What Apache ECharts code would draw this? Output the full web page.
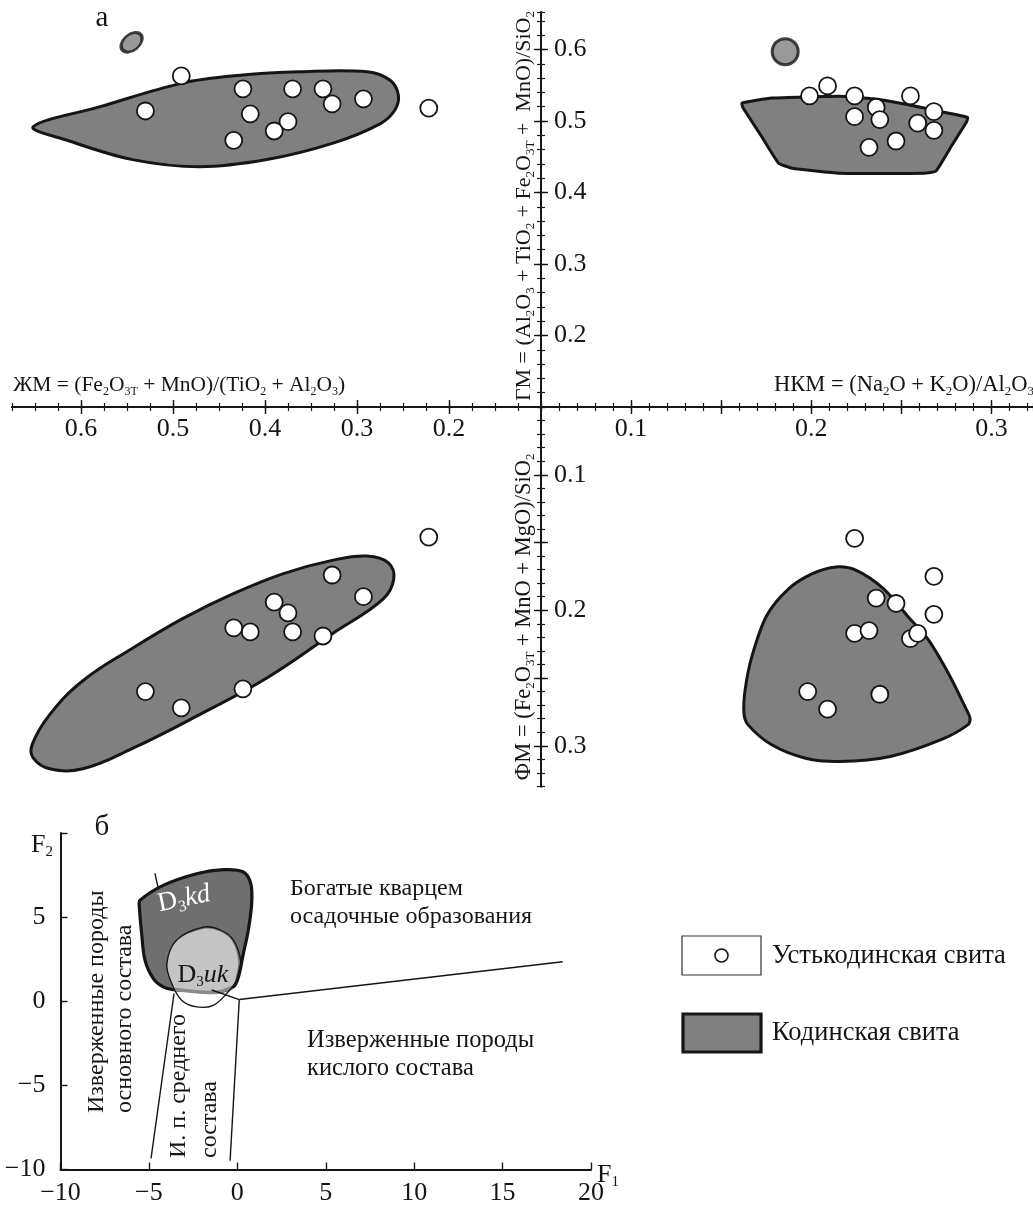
<!DOCTYPE html>
<html>
<head>
<meta charset="utf-8">
<script src="https://cdn.jsdelivr.net/npm/echarts@6/dist/echarts.min.js"></script>
<style>
html, body { margin: 0; padding: 0; background: #fff; }
#main { width: 1033px; height: 1213px; }
</style>
</head>
<body>
<div id="main"></div>
<script>
var FONT = '"Liberation Serif", "Times New Roman", serif';
var INK = '#151515';
var FIELD = '#808080';

// ---- а: left half, ЖМ (x) with ГМ (top) and ФМ (bottom); same 12 samples
var zhmL = [0.491, 0.530, 0.424, 0.370, 0.337, 0.293, 0.327, 0.416, 0.375, 0.390, 0.434, 0.222];
var gmL  = [0.563, 0.514, 0.545, 0.545, 0.545, 0.531, 0.524, 0.510, 0.499, 0.486, 0.473, 0.518];
var fmL  = [0.272, 0.260, 0.258, 0.216, 0.219, 0.190, 0.174, 0.216, 0.202, 0.194, 0.213, 0.146];

// ---- а: right half, НКМ (x)
var nkmTop = [0.199, 0.209, 0.224, 0.255, 0.236, 0.268, 0.224, 0.238, 0.259, 0.268, 0.247, 0.232];
var gmTop  = [0.535, 0.549, 0.535, 0.535, 0.519, 0.513, 0.506, 0.502, 0.497, 0.487, 0.472, 0.463];
var nkmBot = [0.224, 0.268, 0.236, 0.247, 0.268, 0.224, 0.232, 0.255, 0.259, 0.198, 0.209, 0.238];
var fmBot  = [0.147, 0.175, 0.191, 0.195, 0.203, 0.217, 0.215, 0.221, 0.217, 0.260, 0.273, 0.262];

// single Кодинская свита points outside the fields
var kodLeft  = [0.545, 0.610];   // ЖМ, ГМ
var kodRight = [0.1855, 0.597];  // НКМ, ГМ

// Кодинская свита fields (outlines)
var fieldTL = [[0.652,0.492],[0.579,0.520],[0.490,0.553],[0.427,0.564],[0.362,0.569],[0.289,0.569],
  [0.264,0.557],[0.255,0.536],[0.259,0.515],[0.275,0.496],[0.326,0.469],[0.398,0.446],
  [0.471,0.436],[0.544,0.446],[0.615,0.473]];
var fieldTR = [[0.1615,0.525],[0.178,0.532],[0.2156,0.5345],[0.2344,0.531],[0.2532,0.523],[0.272,0.513],
  [0.2867,0.505],[0.2861,0.4985],[0.278,0.466],[0.2692,0.430],[0.2626,0.427],[0.2156,0.427],
  [0.1893,0.434],[0.1818,0.441],[0.172,0.480],[0.162,0.519]];
var fieldBL = [[0.653,0.299],[0.634,0.277],[0.598,0.252],[0.544,0.228],[0.489,0.206],[0.435,0.188],
  [0.380,0.173],[0.326,0.163],[0.289,0.160],[0.266,0.165],[0.260,0.177],[0.272,0.192],
  [0.326,0.217],[0.398,0.250],[0.471,0.277],[0.544,0.302],[0.598,0.317],[0.634,0.317],[0.652,0.309]];
var fieldBR = [[0.2137,0.168],[0.225,0.1705],[0.240,0.184],[0.2532,0.204],[0.2645,0.221],[0.2758,0.246],
  [0.2852,0.271],[0.288,0.2795],[0.287,0.2844],[0.272,0.2955],[0.2438,0.3079],[0.2156,0.3116],
  [0.1968,0.3092],[0.178,0.2993],[0.1648,0.2844],[0.1626,0.2757],[0.1633,0.2584],[0.1671,0.2337],
  [0.1752,0.204],[0.1874,0.1842],[0.2006,0.173]];

// ---- б: F1-F2 discriminant diagram
var kdField = [[-5.50,6.00],[-4.19,6.89],[-2.30,7.58],[-0.79,7.82],[0.34,7.68],[0.76,6.99],[0.81,5.80],
  [0.62,4.22],[0.34,2.83],[0.06,1.44],[-0.23,0.85],[-1.17,0.55],[-2.86,0.65],[-3.62,0.69],
  [-4.19,0.85],[-4.75,1.35],[-5.22,2.43],[-5.41,4.02],[-5.54,5.60]];
var ukBlob = [[-1.92,4.40],[-0.98,4.25],[-0.23,3.65],[0.19,2.43],[0.06,1.44],[-0.60,0.46],[-1.36,-0.24],
  [-2.30,-0.34],[-3.15,0.06],[-3.71,1.05],[-3.99,2.24],[-3.43,3.65]];
var ukInner = [[-1.92,4.30],[-0.98,4.15],[-0.30,3.60],[0.05,2.43],[-0.08,1.44],[-0.30,0.85],[-1.17,0.50],
  [-2.86,0.59],[-3.58,0.71],[-3.71,1.05],[-3.95,2.24],[-3.40,3.60]];
var ukBand = [[-3.58,0.71],[-2.86,0.62],[-1.17,0.53],[-0.30,0.82]];
var lineLeft  = [[-3.58,0.46],[-4.88,-9.34]];
var lineRight = [[0.11,0.10],[-0.41,-9.48]];
var lineLong  = [[0.11,0.10],[18.4,2.35]];
var lineInner = [[0.11,0.10],[-1.45,0.67]];
var lineStub  = [[-4.66,7.60],[-4.47,6.69]];

// tick positions / labels
var zhmMajor = [0.2, 0.3, 0.4, 0.5, 0.6];
var gmMajor  = [0.2, 0.3, 0.4, 0.5, 0.6];
var nkmMajor = [0.1, 0.15, 0.2, 0.25, 0.3];
var nkmLabel = [0.1, 0.2, 0.3];
var fmMajor  = [0.1, 0.15, 0.2, 0.25, 0.3];
var fmLabel  = [0.1, 0.2, 0.3];
var f2Label  = [-10, -5, 0, 5];

function fmt1(v) { return (+v).toFixed(1); }
function minus(v) { return String(v).replace('-', '\u2212'); }

function axisPair(grid, pos, min, max, inverse, minorStep, majors, labels, margin) {
  var base = { type: 'value', gridIndex: grid, position: pos, min: min, max: max,
    inverse: inverse, splitLine: { show: false } };
  var minor = Object.assign({}, base, {
    interval: minorStep,
    axisLine: { show: true, onZero: false, lineStyle: { color: INK, width: 2 } },
    axisTick: { show: true, length: 4, lineStyle: { color: INK, width: 1.2 } },
    axisLabel: { show: false }
  });
  var major = Object.assign({}, base, {
    interval: minorStep,
    axisLine: { show: false, onZero: false },
    axisTick: { show: true, length: 7, customValues: majors, lineStyle: { color: INK, width: 1.4 } },
    axisLabel: labels ? { show: true, customValues: labels, formatter: fmt1, fontFamily: FONT,
      fontSize: 26, color: INK, margin: margin } : { show: false }
  });
  return [minor, major];
}

var xAxes = [].concat(
  axisPair(0, 'bottom', 0.1, 0.675, true, 0.025, zhmMajor, zhmMajor, 9),
  axisPair(2, 'top', 0.1, 0.675, true, 0.025, zhmMajor, null),
  axisPair(1, 'bottom', 0.05, 0.323, false, 0.01, nkmMajor, nkmLabel, 9),
  axisPair(3, 'top', 0.05, 0.323, false, 0.01, nkmMajor, null),
  [{
    type: 'value', gridIndex: 4, min: -10, max: 20, interval: 5, position: 'bottom',
    splitLine: { show: false },
    axisLine: { onZero: false, lineStyle: { color: INK, width: 2 } },
    axisTick: { inside: true, length: 7, lineStyle: { color: INK, width: 1.4 } },
    axisLabel: { formatter: minus, fontFamily: FONT, fontSize: 26, color: INK, margin: 11 }
  }]
);
var yAxes = [].concat(
  axisPair(0, 'right', 0.1, 0.652, false, 0.02, gmMajor, gmMajor, 13),
  axisPair(1, 'left', 0.1, 0.652, false, 0.02, gmMajor, null),
  axisPair(2, 'right', 0.05, 0.33, true, 0.01, fmMajor, fmLabel, 13),
  axisPair(3, 'left', 0.05, 0.33, true, 0.01, fmMajor, null),
  [{
    type: 'value', gridIndex: 4, min: -10, max: 10, interval: 5, position: 'left',
    splitLine: { show: false },
    axisLine: { onZero: false, lineStyle: { color: INK, width: 2 } },
    axisTick: { inside: true, length: 7, lineStyle: { color: INK, width: 1.4 } },
    axisLabel: { customValues: f2Label, formatter: minus, fontFamily: FONT, fontSize: 26, color: INK, margin: 15 }
  }]
);

function shapeSeries(xi, yi, pts, kind, style, smooth, z) {
  return {
    type: 'custom', xAxisIndex: xi, yAxisIndex: yi, z: z, silent: true, animation: false,
    data: [[0, 0]],
    renderItem: function (params, api) {
      return {
        type: kind,
        shape: { points: pts.map(function (p) { return api.coord(p); }), smooth: smooth },
        style: style
      };
    }
  };
}
var fieldStyle = { fill: FIELD, stroke: INK, lineWidth: 3 };
function openCircles(xi, yi, xs, ys) {
  return {
    type: 'scatter', xAxisIndex: xi, yAxisIndex: yi, z: 5, silent: true,
    symbol: 'circle', symbolSize: 17,
    itemStyle: { color: '#fff', borderColor: INK, borderWidth: 1.8, opacity: 1 },
    data: xs.map(function (x, i) { return [x, ys[i]]; })
  };
}
function thin(pts) { return shapeSeries(8, 8, pts, 'polyline', { fill: null, stroke: INK, lineWidth: 1.4 }, 0, 3); }

var series = [
  shapeSeries(0, 0, fieldTL, 'polygon', fieldStyle, 0.35, 2),
  shapeSeries(4, 2, fieldTR, 'polygon', fieldStyle, 0.12, 2),
  shapeSeries(2, 4, fieldBL, 'polygon', fieldStyle, 0.4, 2),
  shapeSeries(6, 6, fieldBR, 'polygon', fieldStyle, 0.3, 2),
  openCircles(0, 0, zhmL, gmL),
  openCircles(2, 4, zhmL, fmL),
  openCircles(4, 2, nkmTop, gmTop),
  openCircles(6, 6, nkmBot, fmBot),
  {
    type: 'scatter', xAxisIndex: 0, yAxisIndex: 0, z: 5, silent: true,
    symbol: 'circle', symbolSize: [24, 16], symbolRotate: 40,
    itemStyle: { color: FIELD, borderColor: INK, borderWidth: 3 },
    data: [kodLeft]
  },
  {
    type: 'scatter', xAxisIndex: 4, yAxisIndex: 2, z: 5, silent: true,
    symbol: 'circle', symbolSize: 26,
    itemStyle: { color: FIELD, borderColor: INK, borderWidth: 3 },
    data: [kodRight]
  },
  shapeSeries(8, 8, kdField, 'polygon', { fill: '#6f6f6f', stroke: INK, lineWidth: 3.2 }, 0.35, 2),
  shapeSeries(8, 8, ukInner, 'polygon', { fill: '#c4c4c4', stroke: null }, 0.35, 3),
  shapeSeries(8, 8, ukBand, 'polyline', { fill: null, stroke: '#8a8a8a', lineWidth: 3.5 }, 0.3, 3),
  shapeSeries(8, 8, ukBlob, 'polygon', { fill: null, stroke: INK, lineWidth: 1.3 }, 0.35, 4),
  thin(lineLeft), thin(lineRight), thin(lineLong), thin(lineInner), thin(lineStub)
];

function rich(size, color) {
  var sub = Math.round(size * 0.58);
  return {
    n: { fontSize: size, fontFamily: FONT, fill: color, color: color, lineHeight: size + 4 },
    i: { fontSize: size, fontFamily: FONT, fontStyle: 'italic', fill: color, color: color, lineHeight: size + 4 },
    s: { fontSize: sub, fontFamily: FONT, fill: color, color: color, verticalAlign: 'bottom', lineHeight: sub + 1 }
  };
}
function txt(x, y, text, size, o) {
  o = o || {};
  var color = o.color || INK;
  return {
    type: 'text', x: x, y: y, rotation: o.rot || 0, z: 100, silent: true,
    style: {
      text: text, rich: rich(size, color), fill: color,
      font: size + 'px ' + FONT,
      align: o.align || 'left', textAlign: o.align || 'left',
      verticalAlign: 'middle', textVerticalAlign: 'middle',
      lineHeight: o.lh || size + 4
    }
  };
}
var R90 = Math.PI / 2;
var graphics = [
  txt(102, 18, 'а', 29, { align: 'center' }),
  txt(13, 385, '{n|ЖМ = (Fe}{s|2}{n|O}{s|3Т}{n| + MnO)/(TiO}{s|2}{n| + Al}{s|2}{n|O}{s|3}{n|)}', 21.5),
  txt(774, 385, '{n|НКМ = (Na}{s|2}{n|O + K}{s|2}{n|O)/Al}{s|2}{n|O}{s|3}', 22.5),
  txt(524, 206, '{n|ГМ = (Al}{s|2}{n|O}{s|3}{n| + TiO}{s|2}{n| + Fe}{s|2}{n|O}{s|3Т}{n| +  MnO)/SiO}{s|2}', 22, { align: 'center', rot: R90 }),
  txt(524, 617, '{n|ФМ = (Fe}{s|2}{n|O}{s|3Т}{n| + MnO + MgO)/SiO}{s|2}', 22.5, { align: 'center', rot: R90 }),

  txt(102, 827, 'б', 29, { align: 'center' }),
  txt(31, 845, '{n|F}{s|2}', 26),
  txt(597, 1175, '{n|F}{s|1}', 26),
  txt(184, 899, '{n|D}{s|3}{i|kd}', 27, { align: 'center', rot: 0.2, color: '#ffffff' }),
  txt(203, 975, '{n|D}{s|3}{i|uk}', 26, { align: 'center' }),
  txt(290, 903, 'Богатые кварцем\nосадочные образования', 24, { lh: 28 }),
  txt(307, 1055, 'Изверженные породы\nкислого состава', 24.5, { lh: 28 }),
  txt(111, 1113, 'Изверженные породы\nосновного состава', 24, { lh: 28 }),
  txt(194, 1158, 'И. п. среднего\nсостава', 24, { lh: 31 }),

  { type: 'rect', z: 100, silent: true, shape: { x: 682, y: 936, width: 79, height: 39 },
    style: { fill: '#fff', stroke: '#333', lineWidth: 1.2 } },
  { type: 'circle', z: 101, silent: true, shape: { cx: 721.5, cy: 955.5, r: 6.5 },
    style: { fill: '#fff', stroke: INK, lineWidth: 1.6 } },
  txt(772, 956, 'Устькодинская свита', 26.5),
  { type: 'rect', z: 100, silent: true, shape: { x: 683, y: 1014, width: 78, height: 38 },
    style: { fill: FIELD, stroke: INK, lineWidth: 3.2 } },
  txt(772, 1033, 'Кодинская свита', 26.5)
];
// the two rotated region labels of б
graphics[12].rotation = R90;
graphics[13].rotation = R90;

var chart = echarts.init(document.getElementById('main'));
chart.setOption({
  backgroundColor: '#fff',
  animation: false,
  grid: [
    { left: 12, top: 12.3, width: 529, height: 394.7 },
    { left: 541, top: 12.3, width: 492, height: 394.7 },
    { left: 12, top: 407, width: 529, height: 379.4 },
    { left: 541, top: 407, width: 492, height: 379.4 },
    { left: 60.5, top: 833, width: 530.5, height: 336.5 }
  ],
  xAxis: xAxes,
  yAxis: yAxes,
  series: series,
  graphic: graphics
});
</script>
</body>
</html>
